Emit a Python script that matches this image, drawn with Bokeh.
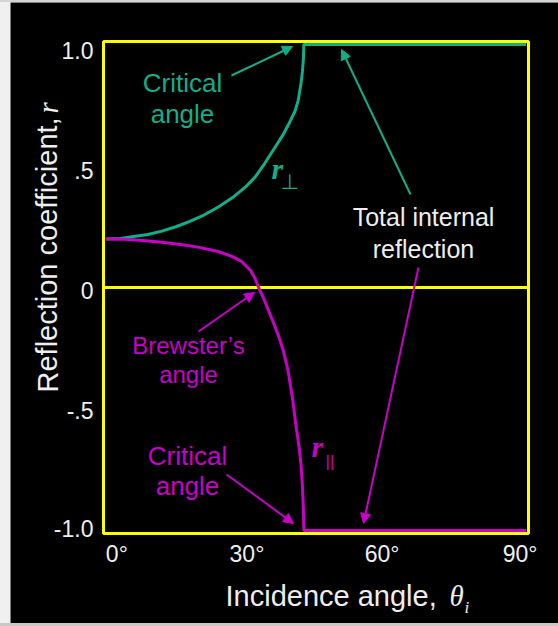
from bokeh.plotting import figure
from bokeh.models import Range1d, Label, Arrow, NormalHead, Spacer
from bokeh.layouts import row, column
from bokeh.embed import file_html
from bokeh.resources import INLINE

# ---- data ----
theta_perp = [0, 3, 6, 9, 12, 15, 18, 21, 24, 27, 30, 32, 34, 36, 38, 39.5, 40.5, 41.2, 41.8, 42.1, 42.3, 42.4, 90]
r_perp = [0.20, 0.202, 0.21, 0.218, 0.232, 0.25, 0.272, 0.298, 0.33, 0.368, 0.415, 0.455, 0.51, 0.57, 0.63, 0.685,
          0.725, 0.77, 0.84, 0.89, 0.94, 1.0, 1.0]

theta_par = [0, 4, 8, 12, 16, 20, 24, 27, 29, 31, 32, 32.7, 33.8, 34.8, 36, 37, 38, 39, 40, 40.8, 41.4, 41.8, 42.1,
             42.3, 42.4, 90]
r_par = [0.20, 0.198, 0.193, 0.186, 0.177, 0.165, 0.148, 0.128, 0.108, 0.07, 0.035, 0.0, -0.045, -0.093, -0.15, -0.2,
         -0.26, -0.34, -0.46, -0.58, -0.66, -0.73, -0.82, -0.91, -1.0, -1.0]

x_ticks = [0, 30, 60, 90]
x_tick_labels = ["0°", "30°", "60°", "90°"]
y_ticks = [1.0, 0.5, 0.0, -0.5, -1.0]
y_tick_labels = ["1.0", ".5", "0", "-.5", "-1.0"]

# ---- styling / layout ----
TEAL = "#12ae8a"
MAGENTA = "#c800c8"
YELLOW = "#ffff00"
WHITE = "#eeeeee"
SANS = "Liberation Sans"
SERIF = "Liberation Serif"

OX, OY = 10, 2                       # figure offset on page
FL, FR, FT, FB = 103, 528, 41, 533   # plot-box edges in page px
XR = (-0.5, 90.5)                    # data span of the plot box
YR = (-1.012, 1.012)
W, H = 548, 621


def dx(px):
    return XR[0] + (px - FL) * (XR[1] - XR[0]) / (FR - FL)


def dy(py):
    return YR[1] - (py - FT) * (YR[1] - YR[0]) / (FB - FT)


p = figure(width=W, height=H, output_backend="svg", toolbar_location=None, tools="",
           x_range=Range1d(dx(OX), dx(OX + W)), y_range=Range1d(dy(OY + H), dy(OY)),
           x_axis_location=None, y_axis_location=None, min_border=0)
p.background_fill_color = "black"
p.border_fill_color = "black"
p.outline_line_color = None
p.grid.visible = False

# plot box and zero line
p.quad(left=XR[0], right=XR[1], bottom=YR[0], top=YR[1], fill_alpha=0, line_color=YELLOW, line_width=3)
p.segment(x0=XR[0], x1=XR[1], y0=0, y1=0, line_color=YELLOW, line_width=3)

p.line(theta_perp, r_perp, line_color=TEAL, line_width=3)
p.line(theta_par, r_par, line_color=MAGENTA, line_width=3)


def lab(text, px, py, color, size, align="center", font=SANS, style="normal", angle=0):
    # px, py: page position of the text's vertical middle
    p.add_layout(Label(x=dx(px), y=dy(py), text=text, text_color=color, text_font=font,
                       text_font_size=f"{size}px", text_align=align, text_baseline="middle",
                       text_font_style=style, angle=angle))


# tick labels
x_nudge = [11, 1, -4, -6]
for t, s, n in zip(x_ticks, x_tick_labels, x_nudge):
    p.add_layout(Label(x=t, y=dy(553), text=s, text_color=WHITE, text_font=SANS,
                       text_font_size="23px", text_align="center", text_baseline="middle", x_offset=n))
y_nudge = [6, 4.5, 3, 1.5, -2]
for t, s, n in zip(y_ticks, y_tick_labels, y_nudge):
    p.add_layout(Label(x=dx(93), y=t - n * (YR[1] - YR[0]) / (FB - FT), text=s, text_color=WHITE,
                       text_font=SANS, text_font_size="23px", text_align="right", text_baseline="middle"))

# axis titles
lab("Incidence angle, ", 225, 595, WHITE, 29, align="left")
lab("θ", 449, 595, WHITE, 29, align="left", font=SERIF, style="italic")
lab("i", 464, 607, WHITE, 17, align="left", font=SERIF, style="italic")
lab("Reflection coefficient, ", 47, 392, WHITE, 29, align="left", angle=1.5708)
lab("r", 47, 113, WHITE, 29, align="left", font=SERIF, style="italic", angle=1.5708)

# annotations
lab("Critical", 182, 82, TEAL, 26)
lab("angle", 182, 113, TEAL, 26)
lab("Total internal", 423, 216, WHITE, 25)
lab("reflection", 423, 248, WHITE, 25)
lab("Brewster’s", 188, 345, MAGENTA, 24)
lab("angle", 188, 374, MAGENTA, 24)
lab("Critical", 187, 455, MAGENTA, 26)
lab("angle", 187, 485, MAGENTA, 26)

lab("r", 271, 168, TEAL, 30, align="left", font=SERIF, style="bold italic")
lab("⊥", 280, 181, TEAL, 21, align="left", font="DejaVu Sans")
lab("r", 311, 446, MAGENTA, 30, align="left", font=SERIF, style="bold italic")
lab("||", 325, 461, MAGENTA, 17, align="left")

arrows = [
    ((231, 75), (292, 46), TEAL),
    ((410, 194), (341, 49), TEAL),
    ((418, 267), (363, 523), MAGENTA),
    ((198, 331), (254, 292), MAGENTA),
    ((226, 474), (293, 523), MAGENTA),
]
for (sx, sy), (ex, ey), c in arrows:
    p.add_layout(Arrow(x_start=dx(sx), y_start=dy(sy), x_end=dx(ex), y_end=dy(ey),
                       line_color=c, line_width=2,
                       end=NormalHead(size=10, fill_color=c, line_color=c)))

layout = column(
    Spacer(width=558, height=OY, styles={"background-color": "#d4d4d4"}),
    row(Spacer(width=OX, height=H, styles={"background-color": "#f0f0f0"}), p),
    Spacer(width=558, height=3, styles={"background-color": "#c8c8c8"}),
)

open("out.html", "w").write(file_html(layout, INLINE))
